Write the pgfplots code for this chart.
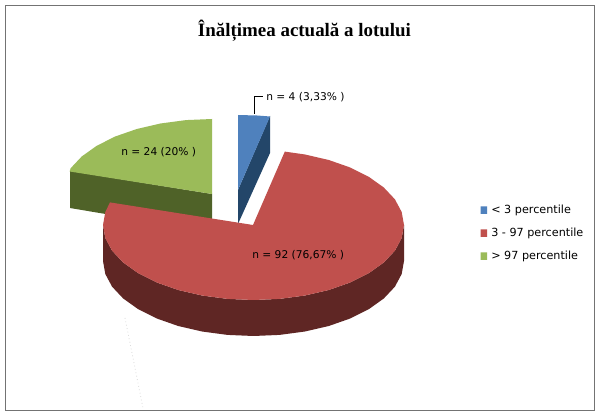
\documentclass[border=0pt]{standalone}
\usepackage{fontspec}
\setmainfont{DejaVu Sans}
\newfontfamily\titlefont{Liberation Serif}
\usepackage{pgfplots}
\pgfplotsset{compat=1.18}
\definecolor{blueTop}{HTML}{4F81BD}
\definecolor{blueSide}{HTML}{234669}
\definecolor{redTop}{HTML}{C0504D}
\definecolor{redSide}{HTML}{5F2624}
\definecolor{greenTop}{HTML}{9BBB59}
\definecolor{greenSide}{HTML}{4F6228}
\begin{document}
\begin{tikzpicture}
\begin{axis}[
  scale only axis, width=450.75pt, height=312.75pt,
  xmin=0, xmax=601, ymin=0, ymax=417, y dir=reverse,
  axis lines=none, clip=true]

% page background, fixes the picture's size
\addplot[draw=none, fill=white] coordinates {(0,0) (601,0) (601,417) (0,417) (0,0)};
% frame
\addplot[draw=black!55, line width=0.75pt] coordinates {(5.5,5.5) (594.5,5.5) (594.5,411) (5.5,411) (5.5,5.5)};

% green slice
\addplot[draw=none, fill=greenSide] coordinates {(70,171) (212,194) (212,232) (70,208) (70,171)};
\addplot[draw=none, fill=greenTop] coordinates {(212,194) (212,119) (185.9,120.1) (160.5,123.5) (136.8,129) (115.2,136.5) (96.7,145.8) (81.7,156.5) (70.6,168.3) (69.7,171.5) (212,194)};

% blue slice
\addplot[draw=none, fill=blueSide] coordinates {(270,116) (238,190) (238,224) (270,153) (270,116)};
\addplot[draw=none, fill=blueTop] coordinates {(238,190) (238,115) (257,115.5) (270,116.5) (238,190)};

% red slice, side then top
\addplot[draw=none, fill=redSide] coordinates {
 (404,225) (401.7,238) (394.9,250.7) (383.8,262.5) (368.8,273.2) (350.2,282.5) (328.8,290) (305,295.5) (279.6,298.9) (253.5,300)
 (227.4,298.9) (202,295.5) (178.2,290) (156.8,282.5) (138.2,273.2) (123.2,262.5) (112.1,250.7) (105.3,238) (103,225)
 (103,261) (105.3,274) (112.1,286.7) (123.2,298.5) (138.2,309.2) (156.8,318.5) (178.2,326) (202,331.5) (227.4,334.9) (253.5,336)
 (279.6,334.9) (305,331.5) (328.8,326) (350.2,318.5) (368.8,309.2) (383.8,298.5) (394.9,286.7) (401.7,274) (404,261) (404,225)};
\addplot[draw=none, fill=redTop] coordinates {
 (253,225) (284.8,151.6) (305,154.5) (328.8,160) (350.2,167.5) (368.8,176.8) (383.8,187.5) (394.9,199.3) (401.7,212) (404,225)
 (401.7,238) (394.9,250.7) (383.8,262.5) (368.8,273.2) (350.2,282.5) (328.8,290) (305,295.5) (279.6,298.9) (253.5,300)
 (227.4,298.9) (202,295.5) (178.2,290) (156.8,282.5) (138.2,273.2) (123.2,262.5) (112.1,250.7) (105.3,238) (103,225) (105.3,212) (110,202.4) (253,225)};

% leader lines
\addplot[draw=black, line width=0.75pt] coordinates {(254.5,114) (254.5,97) (263,97)};
\addplot[draw=black!14, line width=0.6pt, dotted] coordinates {(125,318) (143,408)};

% legend swatches
\addplot[draw=none, fill=blueTop] coordinates {(480.5,206.5) (487,206.5) (487,214) (480.5,214) (480.5,206.5)};
\addplot[draw=none, fill=redTop] coordinates {(480.5,229.5) (487,229.5) (487,237) (480.5,237) (480.5,229.5)};
\addplot[draw=none, fill=greenTop] coordinates {(480.5,252.5) (487,252.5) (487,260) (480.5,260) (480.5,252.5)};

% text
\node[font=\titlefont\bfseries\fontsize{14.2}{16}\selectfont] at (axis cs:304.5,31) {Înălțimea actuală a lotului};
\begin{scope}[every node/.style={font=\fontsize{8}{9}\selectfont, inner sep=0pt, text=black}]
\node[anchor=west] at (axis cs:266,97) {n = 4 (3,33\% )};
\node[anchor=west] at (axis cs:121,152) {n = 24 (20\% )};
\node[anchor=west] at (axis cs:252,255.5) {n = 92 (76,67\% )};
\end{scope}
\begin{scope}[every node/.style={font=\fontsize{8.4}{9}\selectfont, inner sep=0pt, text=black}]
\node[anchor=west] at (axis cs:491,210) {< 3 percentile};
\node[anchor=west] at (axis cs:491,233) {3 - 97 percentile};
\node[anchor=west] at (axis cs:491,256) {> 97 percentile};
\end{scope}
\end{axis}
\end{tikzpicture}
\end{document}
